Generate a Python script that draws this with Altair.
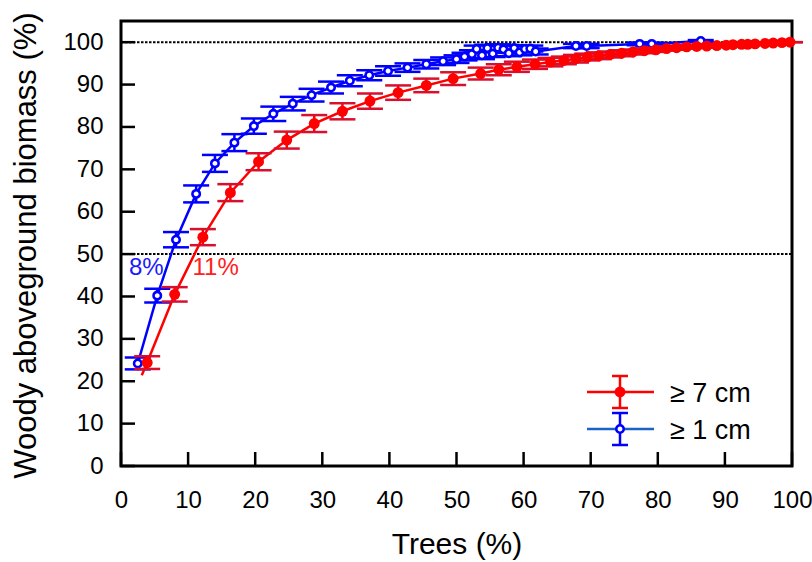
import altair as alt
import pandas as pd

# ---------------- data ----------------
red_x = [3.9, 8.0, 12.2, 16.3, 20.5, 24.7, 28.8, 33.0, 37.1, 41.3, 45.5, 49.5, 53.6, 56.3, 59.0,
         61.7, 64.0, 66.0, 67.8, 69.5, 71.2, 72.9, 74.6, 76.3, 78.0, 79.7, 81.3, 82.8, 84.3, 85.8,
         87.3, 88.8, 90.2, 91.2, 92.5, 93.4, 94.5, 96.0, 97.2, 98.5, 99.7]
red_y = [24.4, 40.5, 54.0, 64.5, 71.8, 76.9, 80.8, 83.7, 86.1, 88.1, 89.8, 91.4, 92.6, 93.5, 94.2,
         94.8, 95.3, 95.7, 96.1, 96.5, 96.8, 97.1, 97.4, 97.7, 98.0, 98.2, 98.5, 98.7, 98.9, 99.0,
         99.1, 99.2, 99.3, 99.4, 99.5, 99.5, 99.6, 99.7, 99.8, 99.9, 100.0]
red_err = [1.5, 1.7, 1.9, 2.0, 2.0, 2.0, 2.0, 1.9, 1.8, 1.7, 1.6, 1.5, 1.4, 1.3, 1.2,
           1.1, 1.0, 0.9, 0.9, 0.8, 0.8, 0.7, 0.7, 0.6, 0.6, 0.5, 0.5, 0.5, 0.4, 0.4,
           0.4, 0.3, 0.3, 0.3, 0.3, 0.2, 0.2, 0.2, 0.1, 0.1, 0.0]

blue_x = [2.5, 5.4, 8.2, 11.2, 14.0, 16.9, 19.8, 22.7, 25.6, 28.4, 31.3, 34.1, 37.0, 39.8, 42.7,
          45.5, 48.0, 50.0, 51.2, 52.3, 53.0, 53.8, 54.6, 55.4, 56.2, 57.0, 57.8, 58.6, 59.4, 60.2,
          61.0, 61.8, 67.8, 69.4, 77.3, 79.1, 86.4]
blue_y = [24.2, 40.2, 53.4, 64.2, 71.4, 76.3, 80.2, 83.1, 85.5, 87.5, 89.3, 90.9, 92.2, 93.2, 94.0,
          94.8, 95.5, 96.0, 96.6, 97.2, 98.4, 96.9, 98.6, 97.3, 98.7, 98.3, 97.4, 98.6, 97.6, 98.4,
          98.5, 97.8, 99.1, 99.1, 99.6, 99.6, 100.3]
blue_err = [1.4, 1.6, 1.8, 2.0, 2.0, 2.0, 1.8, 1.7, 1.6, 1.5, 1.4, 1.3, 1.2, 1.1, 1.0,
            1.0, 0.9, 0.9, 0.9, 0.9, 0.8, 0.9, 0.8, 0.8, 0.8, 0.8, 0.7, 0.7, 0.7, 0.7,
            0.7, 0.7, 0.5, 0.5, 0.3, 0.3, 0.2]

# fitted curves (start below the first point)
red_curve_x = [3.1] + red_x
red_curve_y = [21.4] + red_y
blue_curve_x = [2.4] + blue_x
blue_curve_y = [22.6] + blue_y

x_ticks = [0, 10, 20, 30, 40, 50, 60, 70, 80, 90, 100]
y_ticks = [0, 10, 20, 30, 40, 50, 60, 70, 80, 90, 100]
ref_lines = [50, 100]

legend_labels = ["\u2265 7 cm", "\u2265 1 cm"]
annot_labels = ["8%", "11%"]

# ---------------- styling ----------------
RED = "#ff0000"
RED_CAP = "#d8102e"
BLUE = "#0000ff"
BLUE_LEG = "#1a62c8"
SANS = "Liberation Sans, Arial, sans-serif"

W, H = 671, 445
xs = alt.Scale(domain=[0, 100], nice=False, zero=False)
ys = alt.Scale(domain=[0, 105], nice=False, zero=False)

AX_X = alt.Axis(
    values=x_ticks, ticks=False, tickSize=0, domain=False, grid=False,
    labelFont=SANS, labelFontSize=24, labelColor="black", labelPadding=22,
    labelFlush=False, labelOverlap=False, labelBound=False,
    title="Trees (%)", titleFont=SANS, titleFontSize=30, titleFontWeight="normal",
    titleColor="black", titleX=335.5, titleY=87, titleBaseline="alphabetic",
    titleAlign="center")
AX_Y = alt.Axis(
    values=y_ticks, ticks=False, tickSize=0, domain=False, grid=False,
    labelFont=SANS, labelFontSize=24, labelColor="black", labelPadding=18,
    title="Woody aboveground biomass (%)", titleFont=SANS, titleFontSize=31,
    titleFontWeight="normal", titleColor="black", titleX=-86, titleY=224,
    titleAngle=270, titleBaseline="alphabetic", titleAlign="center")


def X(f="x"):
    return alt.X(f"{f}:Q", scale=xs, axis=AX_X)


def Y(f="y"):
    return alt.Y(f"{f}:Q", scale=ys, axis=AX_Y)


def pts(xv, yv, ev):
    df = pd.DataFrame({"x": xv, "y": yv, "e": ev})
    df["lo"] = df["y"] - df["e"]
    df["hi"] = df["y"] + df["e"]
    return df


red_df = pts(red_x, red_y, red_err)
blue_df = pts(blue_x, blue_y, blue_err)
red_curve = pd.DataFrame({"x": red_curve_x, "y": red_curve_y})
blue_curve = pd.DataFrame({"x": blue_curve_x, "y": blue_curve_y})

# reference dotted lines
ref = alt.Chart(pd.DataFrame({"y": ref_lines})).mark_rule(
    color="black", strokeWidth=2, strokeDash=[2.5, 1.5]
).encode(y=Y("y"), x=alt.value(0), x2=alt.value(W))

# inward ticks
xtick = alt.Chart(pd.DataFrame({"x": x_ticks})).mark_rule(color="black", strokeWidth=2.5).encode(
    x=X("x"), y=alt.value(H), y2=alt.value(H - 14))
ytick = alt.Chart(pd.DataFrame({"y": y_ticks})).mark_rule(color="black", strokeWidth=2.5).encode(
    y=Y("y"), x=alt.value(0), x2=alt.value(14))


def series(df, curve, color, capcolor, filled):
    line = alt.Chart(curve).mark_line(color=color, strokeWidth=2.5).encode(x=X(), y=Y())
    bar = alt.Chart(df).mark_rule(color=color, strokeWidth=2.5).encode(
        x=X(), y=Y("lo"), y2="hi")
    cap_lo = alt.Chart(df).mark_tick(orient="horizontal", size=26, thickness=2.5,
                                     color=capcolor, opacity=1).encode(x=X(), y=Y("lo"))
    cap_hi = alt.Chart(df).mark_tick(orient="horizontal", size=26, thickness=2.5,
                                     color=capcolor, opacity=1).encode(x=X(), y=Y("hi"))
    if filled:
        pt = alt.Chart(df).mark_point(shape="circle", filled=True, size=120,
                                      color=color, opacity=1).encode(x=X(), y=Y())
    else:
        pt = alt.Chart(df).mark_point(shape="circle", filled=False, size=55, strokeWidth=2.6,
                                      color=color, fill="white", fillOpacity=1,
                                      opacity=1).encode(x=X(), y=Y())
    return [line, bar, cap_lo, cap_hi, pt]


blue_layers = series(blue_df, blue_curve, BLUE, BLUE, False)
red_layers = series(red_df, red_curve, RED, RED_CAP, True)

# annotations
ann_blue = alt.Chart(pd.DataFrame({"t": [annot_labels[0]]})).mark_text(
    font=SANS, fontSize=24, color="#1a1aff", align="left", baseline="alphabetic"
).encode(text="t:N", x=alt.value(8), y=alt.value(254))
ann_red = alt.Chart(pd.DataFrame({"t": [annot_labels[1]]})).mark_text(
    font=SANS, fontSize=24, color="#ff2020", align="left", baseline="alphabetic"
).encode(text="t:N", x=alt.value(71.5), y=alt.value(254))


# legend (drawn by hand)
def legend_item(label, yc, color, linecolor, capcolor, filled):
    one = pd.DataFrame({"t": [label]})
    ln = alt.Chart(one).mark_rule(color=linecolor, strokeWidth=2.5).encode(
        x=alt.value(466), x2=alt.value(533), y=alt.value(yc))
    eb = alt.Chart(one).mark_rule(color=color, strokeWidth=2.5).encode(
        x=alt.value(499), y=alt.value(yc - 16), y2=alt.value(yc + 16))
    c1 = alt.Chart(one).mark_rule(color=capcolor, strokeWidth=2.5).encode(
        x=alt.value(491), x2=alt.value(507), y=alt.value(yc - 16))
    c2 = alt.Chart(one).mark_rule(color=capcolor, strokeWidth=2.5).encode(
        x=alt.value(491), x2=alt.value(507), y=alt.value(yc + 16))
    if filled:
        mk = alt.Chart(one).mark_point(shape="circle", filled=True, size=120, color=color,
                                       opacity=1).encode(x=alt.value(499), y=alt.value(yc))
    else:
        mk = alt.Chart(one).mark_point(shape="circle", filled=False, size=55, strokeWidth=2.6,
                                       color=color, fill="white", fillOpacity=1,
                                       opacity=1).encode(x=alt.value(499), y=alt.value(yc))
    tx = alt.Chart(one).mark_text(font=SANS, fontSize=27, color="black", align="left",
                                  baseline="alphabetic").encode(
        text="t:N", x=alt.value(549), y=alt.value(yc + 9.5))
    return [ln, eb, c1, c2, mk, tx]


leg = legend_item(legend_labels[0], 371, RED, RED, RED, True) + \
      legend_item(legend_labels[1], 408, BLUE, BLUE_LEG, BLUE, False)

chart = alt.layer(
    ref, xtick, ytick, *blue_layers, *red_layers, ann_blue, ann_red, *leg
).properties(
    width=W, height=H,
    autosize=alt.AutoSizeParams(type="none"),
    padding={"left": 121, "top": 21, "right": 20, "bottom": 96},
    background="white",
).configure_view(stroke="black", strokeWidth=3)

chart.save("out.html", embed_options={"renderer": "svg", "actions": False})
